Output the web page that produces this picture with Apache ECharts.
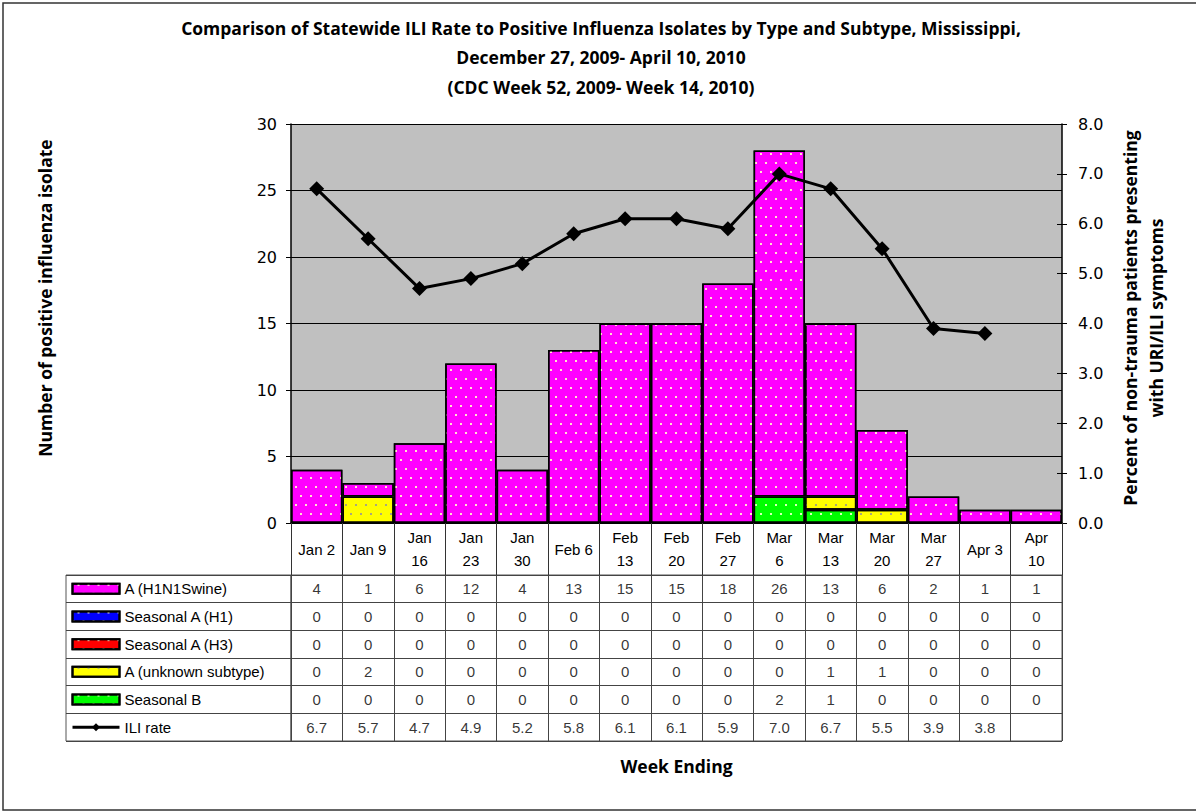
<!DOCTYPE html>
<html>
<head>
<meta charset="utf-8">
<script src="https://cdn.jsdelivr.net/npm/echarts@6/dist/echarts.min.js"></script>
<style>html,body{margin:0;padding:0;background:#fff}#c{width:1196px;height:812px}</style>
</head>
<body>
<div id="c"></div>
<script>
// ---- data ----
const categories = ['Jan 2','Jan 9','Jan\n16','Jan\n23','Jan\n30','Feb 6','Feb\n13','Feb\n20','Feb\n27','Mar\n6','Mar\n13','Mar\n20','Mar\n27','Apr 3','Apr\n10'];
const h1n1Swine   = [4,1,6,12,4,13,15,15,18,26,13,6,2,1,1];
const seasonalH1  = [0,0,0,0,0,0,0,0,0,0,0,0,0,0,0];
const seasonalH3  = [0,0,0,0,0,0,0,0,0,0,0,0,0,0,0];
const unknownA    = [0,2,0,0,0,0,0,0,0,0,1,1,0,0,0];
const seasonalB   = [0,0,0,0,0,0,0,0,0,2,1,0,0,0,0];
const iliRate     = [6.7,5.7,4.7,4.9,5.2,5.8,6.1,6.1,5.9,7.0,6.7,5.5,3.9,3.8,null];
const seriesNames = ['A (H1N1Swine)','Seasonal A (H1)','Seasonal A (H3)','A (unknown subtype)','Seasonal B','ILI rate'];
const leftAxis  = {min:0, max:30, interval:5};
const rightAxis = {min:0, max:8, interval:1};

// ---- layout ----
const PL = 291, PR = 1062, PT = 124, PB = 523;
const TT = 575, TB = 741, LC = 66;
const ROW = (TB - TT) / 6;
const TABLE_FONT = 'Liberation Sans, Arial, sans-serif';
const TICK_FONT = 'DejaVu Sans, Verdana, sans-serif';
const BOLD_FONT = 'Open Sans, Lato, sans-serif';
const TFS = 15;
const BFS = 17.5;

const chart = echarts.init(document.getElementById('c'), null, {renderer:'svg'});

function toBar(arr){ return arr.map(v => v === 0 ? '-' : v); }
function decal(color){
  return {symbol:'rect', symbolSize:1, color:color, dashArrayX:[[2,8],[0,5,2,3]], dashArrayY:[2,7], rotation:0};
}
function barSeries(name, arr, color, dotColor){
  return {
    name, type:'bar', stack:'iso', xAxisIndex:0, yAxisIndex:0,
    barCategoryGap:'0%', data: toBar(arr),
    itemStyle:{color, borderColor:'#000', borderWidth:1.5, decal:decal(dotColor)},
    emphasis:{disabled:true}
  };
}

const tableRows = [h1n1Swine, seasonalH1, seasonalH3, unknownA, seasonalB, iliRate];
const tableData = [];
tableRows.forEach((row, r) => {
  row.forEach((v, i) => {
    if (v === null) return;
    tableData.push({value:[i, r], label:{formatter: r === 5 ? v.toFixed(1) : String(v)}});
  });
});

const option = {
  animation:false,
  backgroundColor:'#fff',
  textStyle:{fontFamily:TABLE_FONT},
  legend:{
    orient:'vertical', left:LC + 5, top:TT + ROW/2 - 8.5, padding:0,
    itemWidth:47, itemHeight:10, itemGap:ROW - 17, selectedMode:false,
    data:seriesNames.map((n, i) => i < 5 ? {name:n, icon:'rect'} : {name:n, lineStyle:{width:3, color:'#000'}}),
    textStyle:{fontFamily:TABLE_FONT, fontSize:TFS, lineHeight:17, color:'#000'}
  },
  grid:[
    {left:PL, top:PT, width:PR-PL, height:PB-PT, show:true, backgroundColor:'#C0C0C0', borderWidth:0, containLabel:false},
    {left:PL, top:TT, width:PR-PL, height:TB-TT, show:true, borderColor:'#555', borderWidth:1, containLabel:false},
    {left:LC, top:TT, width:PL-LC, height:TB-TT, show:true, borderColor:'#555', borderWidth:1, containLabel:false}
  ],
  xAxis:[
    {type:'category', gridIndex:0, data:categories,
     axisLine:{show:true, lineStyle:{color:'#000', width:1.5}},
     axisTick:{show:true, interval:0, length:TT-PB, lineStyle:{color:'#333'}},
     axisLabel:{interval:0, margin:(TT-PB)/2, verticalAlign:'middle', lineHeight:23,
                fontFamily:TABLE_FONT, fontSize:TFS, color:'#000'},
     splitLine:{show:false}},
    {type:'category', gridIndex:1, data:categories,
     axisLine:{show:false}, axisTick:{show:false}, axisLabel:{show:false},
     splitLine:{show:true, interval:0, lineStyle:{color:'#444', width:1}}},
    {type:'value', gridIndex:2, show:false}
  ],
  yAxis:[
    {type:'value', gridIndex:0, min:leftAxis.min, max:leftAxis.max, interval:leftAxis.interval,
     axisLine:{show:true, lineStyle:{color:'#000', width:1.5}},
     axisTick:{show:true, length:5, lineStyle:{color:'#000'}},
     axisLabel:{margin:14, fontFamily:TICK_FONT, fontSize:16, color:'#000'},
     splitLine:{show:true, lineStyle:{color:'#000', width:1}}},
    {type:'value', gridIndex:0, position:'right', min:rightAxis.min, max:rightAxis.max, interval:rightAxis.interval,
     axisLine:{show:true, lineStyle:{color:'#000', width:1.5}},
     axisTick:{show:true, length:5, lineStyle:{color:'#000'}},
     axisLabel:{margin:16, fontFamily:TICK_FONT, fontSize:16, color:'#000',
                formatter: v => v.toFixed(1)},
     splitLine:{show:false}},
    {type:'value', gridIndex:0, position:'right', min:rightAxis.min, max:rightAxis.max, interval:rightAxis.interval,
     axisLine:{show:false}, axisTick:{show:true, inside:true, length:5, lineStyle:{color:'#000'}},
     axisLabel:{show:false}, splitLine:{show:false}},
    {type:'category', gridIndex:1, inverse:true, data:seriesNames,
     axisLine:{show:false}, axisTick:{show:false}, axisLabel:{show:false},
     splitLine:{show:true, interval:0, lineStyle:{color:'#444', width:1}}},
    {type:'category', gridIndex:2, inverse:true, data:seriesNames,
     axisLine:{show:false}, axisTick:{show:false}, axisLabel:{show:false},
     splitLine:{show:true, interval:0, lineStyle:{color:'#444', width:1}}}
  ],
  series:[
    barSeries('Seasonal B', seasonalB, '#00FF00', 'rgba(255,255,220,0.85)'),
    barSeries('A (unknown subtype)', unknownA, '#FFFF00', 'rgba(150,150,150,0.85)'),
    barSeries('Seasonal A (H3)', seasonalH3, '#FF0000', 'rgba(255,255,220,0.85)'),
    barSeries('Seasonal A (H1)', seasonalH1, '#0000FF', 'rgba(255,255,220,0.85)'),
    barSeries('A (H1N1Swine)', h1n1Swine, '#FF00FF', 'rgba(255,255,200,0.9)'),
    {name:'ILI rate', type:'line', xAxisIndex:0, yAxisIndex:1, data:iliRate, z:5,
     symbol:'diamond', symbolSize:15, connectNulls:false,
     lineStyle:{color:'#000', width:3}, itemStyle:{color:'#000'}, emphasis:{disabled:true}},
    {name:'table', type:'scatter', xAxisIndex:1, yAxisIndex:3, data:tableData, symbolSize:0,
     label:{show:true, position:'inside', fontFamily:TABLE_FONT, fontSize:TFS, color:'#000'},
     emphasis:{disabled:true}, silent:true}
  ],
  graphic:[
    {type:'rect', shape:{x:3, y:3, width:1200, height:807}, style:{fill:'none', stroke:'#333', lineWidth:1.5}, silent:true},
    {type:'text', x:601, y:13, style:{text:'Comparison of Statewide ILI Rate to Positive Influenza Isolates by Type and Subtype, Mississippi,\nDecember 27, 2009- April 10, 2010\n(CDC Week 52, 2009- Week 14, 2010)',
      textAlign:'center', textVerticalAlign:'top', font:'bold ' + BFS + 'px ' + BOLD_FONT, lineHeight:29.5, fill:'#000'}},
    {type:'text', x:45, y:298, rotation:Math.PI/2, style:{text:'Number of positive influenza isolate',
      textAlign:'center', textVerticalAlign:'middle', font:'bold ' + BFS + 'px ' + BOLD_FONT, fill:'#000'}},
    {type:'text', x:1143, y:318, rotation:Math.PI/2, style:{text:'Percent of non-trauma patients presenting\nwith URI/ILI symptoms',
      textAlign:'center', textVerticalAlign:'middle', font:'bold ' + BFS + 'px ' + BOLD_FONT, lineHeight:26, fill:'#000'}},
    {type:'text', x:(PL+PR)/2, y:766, style:{text:'Week Ending',
      textAlign:'center', textVerticalAlign:'middle', font:'bold ' + BFS + 'px ' + BOLD_FONT, fill:'#000'}}
  ]
};
chart.setOption(option);
</script>
</body>
</html>
